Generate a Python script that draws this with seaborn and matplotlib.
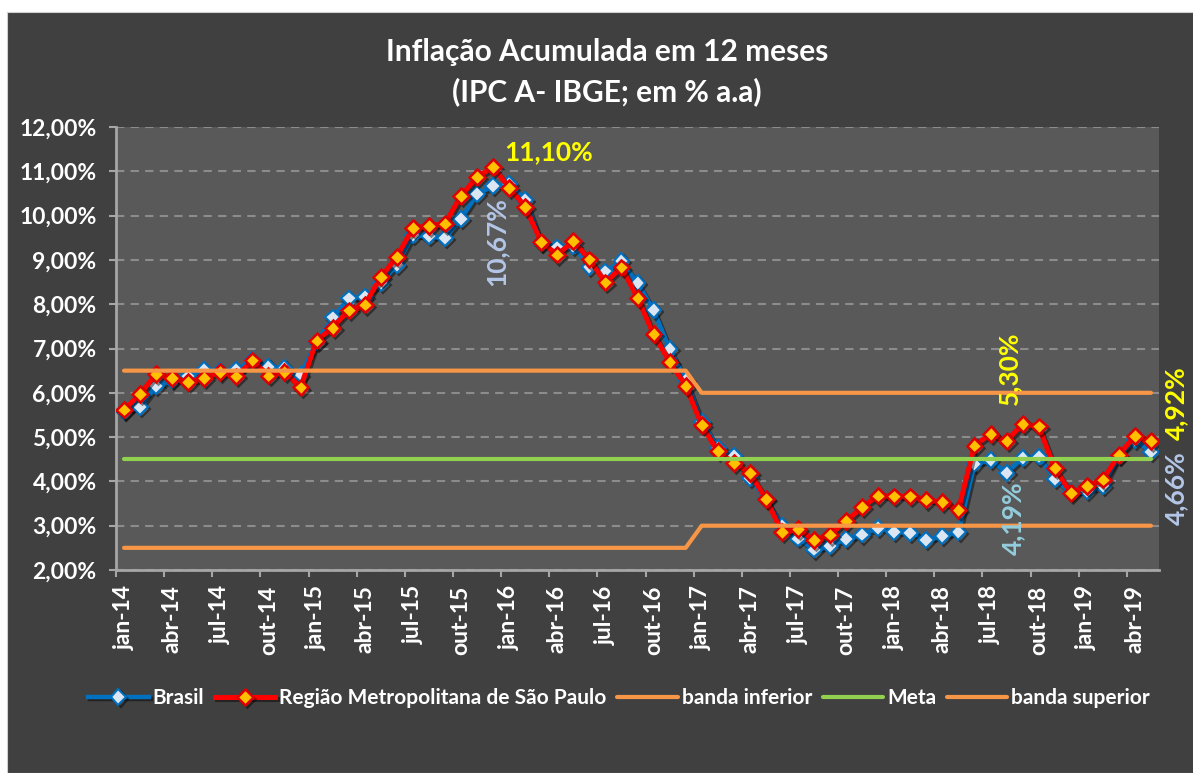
import pandas as pd
import seaborn as sns
import matplotlib.pyplot as plt
import matplotlib.patheffects as pe
from matplotlib.patches import Rectangle
from matplotlib.ticker import FixedLocator, FuncFormatter

# dados: inflação acumulada em 12 meses (IPCA), jan-14 a mai-19
meses = ['jan', 'fev', 'mar', 'abr', 'mai', 'jun', 'jul', 'ago', 'set', 'out', 'nov', 'dez']
anos = ['14', '15', '16', '17', '18', '19']
rotulos = [f'{m}-{a}' for a in anos for m in meses][:65]

brasil = [5.59, 5.68, 6.15, 6.28, 6.37, 6.52, 6.50, 6.51, 6.75, 6.59, 6.56, 6.41,
          7.14, 7.70, 8.13, 8.17, 8.47, 8.89, 9.56, 9.53, 9.49, 9.93, 10.48, 10.67,
          10.71, 10.36, 9.39, 9.28, 9.32, 8.84, 8.74, 8.97, 8.48, 7.87, 6.99, 6.29,
          5.35, 4.76, 4.57, 4.08, 3.60, 3.00, 2.71, 2.46, 2.54, 2.70, 2.80, 2.95,
          2.86, 2.84, 2.68, 2.76, 2.86, 4.39, 4.48, 4.19, 4.53, 4.56, 4.05, 3.75,
          3.78, 3.89, 4.58, 4.94, 4.66]
sao_paulo = [5.62, 5.97, 6.43, 6.34, 6.24, 6.34, 6.47, 6.37, 6.73, 6.39, 6.47, 6.12,
             7.18, 7.47, 7.86, 7.99, 8.61, 9.07, 9.72, 9.77, 9.82, 10.45, 10.87, 11.10,
             10.63, 10.20, 9.40, 9.12, 9.42, 9.01, 8.49, 8.83, 8.14, 7.32, 6.70, 6.16,
             5.27, 4.68, 4.42, 4.19, 3.61, 2.86, 2.93, 2.67, 2.80, 3.10, 3.42, 3.68,
             3.66, 3.66, 3.59, 3.53, 3.36, 4.81, 5.07, 4.91, 5.30, 5.24, 4.30, 3.74,
             3.89, 4.04, 4.60, 5.03, 4.92]
banda_inferior = [2.5] * 36 + [3.0] * 29
meta = [4.5] * 65
banda_superior = [6.5] * 36 + [6.0] * 29

df = pd.DataFrame({'mes': range(len(rotulos)), 'brasil': brasil, 'sp': sao_paulo,
                   'inf': banda_inferior, 'meta': meta, 'sup': banda_superior})

plt.rcParams['font.family'] = ['Lato', 'DejaVu Sans']

fig = plt.figure(figsize=(11.93, 7.73), dpi=100, facecolor='white')
fig.patches.append(Rectangle((7 / 1193, 0), 1, 761 / 773, transform=fig.transFigure,
                             facecolor='#404040', edgecolor='#d0d0d0', lw=0.8, zorder=-10))
ax = fig.add_axes([116 / 1193, 203 / 773, 1043 / 1193, 443 / 773])
ax.set_zorder(1)
ax.set_facecolor('#595959')

sombra = [pe.SimpleLineShadow(offset=(1.5, -1.5), alpha=0.45), pe.Normal()]

sns.lineplot(data=df, x='mes', y='brasil', ax=ax, color='#0070C0', lw=3.2, marker='D', ms=8,
             mfc='#DCE6F2', mec='#0070C0', mew=1.5, errorbar=None, label='Brasil',
             path_effects=sombra, zorder=3)
sns.lineplot(data=df, x='mes', y='sp', ax=ax, color='#FF0000', lw=3.6, marker='D', ms=8,
             mfc='#FFC000', mec='#E00000', mew=1.8, errorbar=None,
             label='Região Metropolitana de São Paulo', path_effects=sombra, zorder=4)
sns.lineplot(data=df, x='mes', y='inf', ax=ax, color='#F79646', lw=3, errorbar=None,
             label='banda inferior', solid_capstyle='round', zorder=5)
sns.lineplot(data=df, x='mes', y='meta', ax=ax, color='#92D050', lw=3, errorbar=None,
             label='Meta', solid_capstyle='round', zorder=5)
sns.lineplot(data=df, x='mes', y='sup', ax=ax, color='#F79646', lw=3, errorbar=None,
             label='banda superior', solid_capstyle='round', zorder=5)

ax.set_xlim(-0.5, 64.5)
ax.set_ylim(2, 12)
ax.set_xlabel('')
ax.set_ylabel('')

ax.yaxis.set_major_locator(FixedLocator(range(2, 13)))
ax.yaxis.set_major_formatter(FuncFormatter(lambda v, p: f'{v:.2f}%'.replace('.', ',')))
ax.xaxis.set_major_locator(FixedLocator(range(0, 65, 3)))
ax.set_xticklabels(rotulos[::3])
ax.xaxis.set_minor_locator(FixedLocator([k - 0.5 for k in range(0, 65, 3)]))

ax.grid(axis='y', linestyle=(0, (4, 3)), color='#8C8C8C', lw=1.5)
ax.grid(axis='x', visible=False)
ax.set_axisbelow(True)
for s in ['top', 'right']:
    ax.spines[s].set_visible(False)
for s in ['left', 'bottom']:
    ax.spines[s].set_color('#A6A6A6')
    ax.spines[s].set_linewidth(2)

ax.tick_params(axis='y', colors='#A6A6A6', length=5, width=1.5, pad=9,
               labelcolor='white', labelsize=16.5)
ax.tick_params(axis='x', which='major', length=0, pad=11, labelcolor='white',
               labelsize=16.5, labelrotation=90)
ax.tick_params(axis='x', which='minor', length=5, width=1.5, colors='#A6A6A6')
for t in ax.get_xticklabels() + ax.get_yticklabels():
    t.set_fontweight('bold')

# rótulos de dados
rot = dict(textcoords='offset pixels', ha='center', va='center', fontsize=19,
           fontweight='bold', annotation_clip=False, zorder=10)
ax.annotate('11,10%', (23, sao_paulo[23]), xytext=(56, 15), color='#FFFF00', **rot)
ax.annotate('10,67%', (23, brasil[23]), xytext=(3, -56), color='#B4C6E7', rotation=90, **rot)
ax.annotate('5,30%', (56, sao_paulo[56]), xytext=(-14, 56), color='#FFFF00', rotation=90, **rot)
ax.annotate('4,19%', (55, brasil[55]), xytext=(6, -45), color='#93CDDD', rotation=90, **rot)
ax.annotate('4,92%', (64, sao_paulo[64]), xytext=(25, 38), color='#FFFF00', rotation=90, **rot)
ax.annotate('4,66%', (64, brasil[64]), xytext=(25, -36), color='#B4C6E7', rotation=90, **rot)

fig.text(0.509, 0.933, 'Inflação Acumulada em 12 meses', ha='center', va='center',
         color='white', fontsize=21.5, fontweight='bold')
fig.text(0.509, 0.881, '(IPC A- IBGE; em % a.a)', ha='center', va='center',
         color='white', fontsize=21.5, fontweight='bold')

handles, labels = ax.get_legend_handles_labels()
ax.get_legend().remove()
fig.legend(handles, labels, loc='center', bbox_to_anchor=(0.519, 0.097), ncol=5,
           frameon=False, prop={'weight': 'bold', 'size': 15}, labelcolor='white',
           handlelength=2.9, handletextpad=0.2, columnspacing=0.5)

fig.savefig('out.png', dpi=100, facecolor=fig.get_facecolor())
